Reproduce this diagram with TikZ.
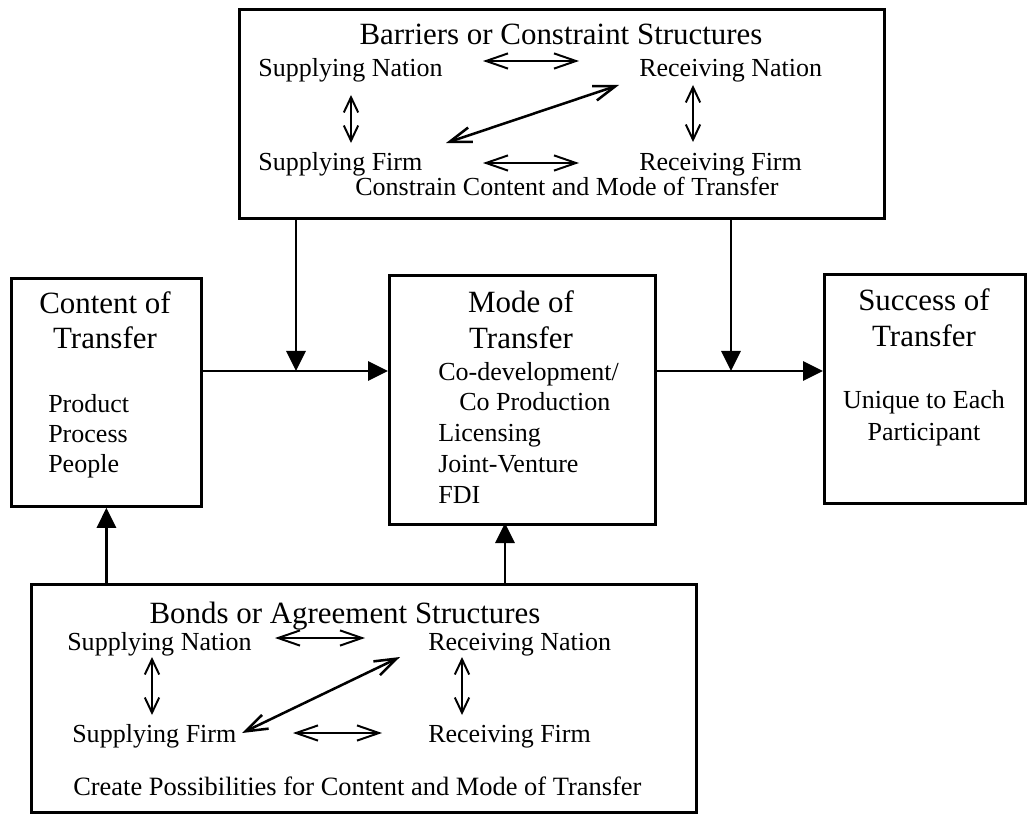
\documentclass[tikz,border=0pt]{standalone}
\usepackage{fontspec}
\setmainfont{Liberation Serif}
\usetikzlibrary{arrows.meta}

\begin{document}
\begin{tikzpicture}
[x=0.025cm,y=-0.025cm,%
  every node/.style={inner sep=0pt,font=\fontsize{18.5}{21}\selectfont},%
  box/.style={draw,line width=2pt,anchor=north west},%
  head/.style={anchor=base,font=\fontsize{22}{25}\selectfont},%
  item/.style={anchor=base west},%
  flow/.style={-{Triangle[length=0.5cm,width=0.48cm]},line width=1.7pt},%
  link/.style={{Straight Barb[length=0.55cm,width=0.38cm]}-{Straight Barb[length=0.55cm,width=0.38cm]},line width=1.4pt},%
  vlink/.style={{Straight Barb[length=0.38cm,width=0.36cm]}-{Straight Barb[length=0.38cm,width=0.36cm]},line width=1.4pt},%
  cross/.style={link,line width=1.8pt}]
\useasboundingbox (0,0) rectangle (1029,814);

\node[box,minimum width=645*0.025cm,minimum height=209*0.025cm] (barriers) at (238,8) {};
\node[box,minimum width=190*0.025cm,minimum height=228*0.025cm] (content) at (10,277) {};
\node[box,minimum width=266*0.025cm,minimum height=249*0.025cm] (mode) at (388,274) {};
\node[box,minimum width=201*0.025cm,minimum height=229*0.025cm] (success) at (823,273) {};
\node[box,minimum width=665*0.025cm,minimum height=228*0.025cm] (bonds) at (30,583) {};

\node[head] (btitle) at (561,45) {Barriers or Constraint Structures};
\node[item] (bsn) at (258,77) {Supplying Nation};
\node[item] (brn) at (639,77) {Receiving Nation};
\node[item] (bsf) at (258,170) {Supplying Firm};
\node[item] (brf) at (639,170) {Receiving Firm};
\node[item] (bnote) at (355,195) {Constrain Content and Mode of Transfer};

\node[head] (ctitle) at (105,313) {Content of};
\node[head] (ctitle2) at (105,348) {Transfer};
\node[item] (cprod) at (48,412) {Product};
\node[item] (cproc) at (48,442) {Process};
\node[item] (cpeop) at (48,472) {People};

\node[head] (mtitle) at (521,312) {Mode of};
\node[head] (mtitle2) at (521,348) {Transfer};
\node[item] (mcodev) at (438,380) {Co-development/};
\node[item] (mcoprod) at (459,410) {Co Production};
\node[item] (mlic) at (438,441) {Licensing};
\node[item] (mjv) at (438,472) {Joint-Venture};
\node[item] (mfdi) at (438,503) {FDI};

\node[head] (stitle) at (924,310) {Success of};
\node[head] (stitle2) at (924,346) {Transfer};
\node[anchor=base] (suniq) at (924,408) {Unique to Each};
\node[anchor=base] (spart) at (924,440) {Participant};

\node[head] (gtitle) at (345,623) {Bonds or Agreement Structures};
\node[item] (gsn) at (67,650) {Supplying Nation};
\node[item] (grn) at (428,650) {Receiving Nation};
\node[item] (gsf) at (72,742) {Supplying Firm};
\node[item] (grf) at (428,742) {Receiving Firm};
\node[item,font=\fontsize{18.8}{21}\selectfont] (gnote) at (73,795) {Create Possibilities for Content and Mode of Transfer};

\coordinate (jl) at (296,371);
\coordinate (jr) at (731,371);
\coordinate (jm) at (505,523);
\draw[flow] (content.east |- jl) -- (mode.west |- jl);
\draw[flow] (mode.east |- jr) -- (success.west |- jr);
\draw[flow] (barriers.south -| jl) -- (jl);
\draw[flow] (barriers.south -| jr) -- (jr);
\draw[flow] (bonds.north -| content.south) -- (content.south);
\draw[flow] (bonds.north -| jm) -- (jm);

\path (483,61) coordinate (b1a) (579,61) coordinate (b1b)
  (483,163) coordinate (b2a) (579,163) coordinate (b2b)
  (351,95) coordinate (b3a) (351,143) coordinate (b3b)
  (693,85) coordinate (b4a) (693,142) coordinate (b4b)
  (446,143) coordinate (b5a) (619,85) coordinate (b5b);
\draw[link] (b1a) -- (b1b);
\draw[link] (b2a) -- (b2b);
\draw[vlink] (b3a) -- (b3b);
\draw[vlink] (b4a) -- (b4b);
\draw[cross] (b5a) -- (b5b);

\path (275,638) coordinate (g1a) (365,638) coordinate (g1b)
  (293,733) coordinate (g2a) (382,733) coordinate (g2b)
  (152,657) coordinate (g3a) (152,715) coordinate (g3b)
  (462,657) coordinate (g4a) (462,715) coordinate (g4b)
  (242,733) coordinate (g5a) (400,657) coordinate (g5b);
\draw[link] (g1a) -- (g1b);
\draw[link] (g2a) -- (g2b);
\draw[vlink] (g3a) -- (g3b);
\draw[vlink] (g4a) -- (g4b);
\draw[cross] (g5a) -- (g5b);
\end{tikzpicture}
\end{document}
